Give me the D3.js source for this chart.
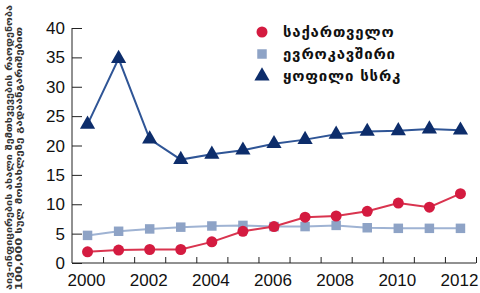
<!DOCTYPE html>
<html>
<head>
<meta charset="utf-8">
<script src="https://cdn.jsdelivr.net/npm/d3@7"></script>
<style>
  body { margin: 0; background: #fff; }
  svg { display: block; }
</style>
</head>
<body>
<div id="chart"></div>
<script>
// values
var years = [2000, 2001, 2002, 2003, 2004, 2005, 2006, 2007, 2008, 2009, 2010, 2011, 2012];
var georgia = [1.9, 2.2, 2.3, 2.3, 3.6, 5.4, 6.2, 7.8, 8.0, 8.8, 10.2, 9.5, 11.8];
var eu = [4.7, 5.4, 5.8, 6.1, 6.3, 6.4, 6.2, 6.2, 6.4, 6.0, 5.9, 5.9, 5.9];
var exUssr = [23.6, 34.8, 21.1, 17.6, 18.5, 19.2, 20.3, 21.0, 21.9, 22.4, 22.5, 22.8, 22.6];
var seriesNames = ['საქართველო', 'ევროკავშირი', 'ყოფილი სსრკ'];
var yTicks = [0, 5, 10, 15, 20, 25, 30, 35, 40];
var xTickLabels = [2000, 2002, 2004, 2006, 2008, 2010, 2012];
var yTitle = ['აივ-ინფიცირების ახალი შემთხვევების რაოდენობა', '100,000 სულ მოსახლეზე გადაანგარიშებით'];

var width = 480, height = 293;

var svg = d3.select('#chart')
  .append('svg')
  .attr('width', width)
  .attr('height', height);

var x = d3.scaleLinear().domain([1999.5, 2012.5]).range([72, 476]);
var y = d3.scaleLinear().domain([0, 40]).range([263, 28]);

var axisColor = '#222';

// y axis, ticks pointing inward
var yAxis = svg.append('g')
  .attr('transform', 'translate(72,0)')
  .call(d3.axisRight(y).tickValues(yTicks).tickSize(10).tickFormat(''));
yAxis.select('.domain').attr('d', 'M0,' + y(40) + 'V' + y(0)).attr('stroke', axisColor);
yAxis.selectAll('.tick line').attr('stroke', axisColor);

svg.append('g')
  .selectAll('text')
  .data(yTicks)
  .enter()
  .append('text')
  .attr('x', 65)
  .attr('y', d => y(d) + 6)
  .attr('text-anchor', 'end')
  .attr('font-family', 'Liberation Sans, Arial, sans-serif')
  .attr('font-size', 17)
  .attr('fill', '#111')
  .text(d => d);

// x axis, ticks between years pointing up
var xAxis = svg.append('g')
  .attr('transform', 'translate(0,263)')
  .call(d3.axisTop(x).tickValues(d3.range(2000.5, 2013, 1)).tickSize(6).tickFormat(''));
xAxis.select('.domain').attr('d', 'M72,0H476').attr('stroke', axisColor);
xAxis.selectAll('.tick line').attr('stroke', axisColor);

svg.append('g')
  .selectAll('text')
  .data(xTickLabels)
  .enter()
  .append('text')
  .attr('x', d => x(d) - 1)
  .attr('y', 286)
  .attr('text-anchor', 'middle')
  .attr('font-family', 'Liberation Sans, Arial, sans-serif')
  .attr('font-size', 17)
  .attr('fill', '#111')
  .text(d => d);

// y title, two rotated lines
svg.selectAll('.ytitle')
  .data(yTitle)
  .enter()
  .append('text')
  .attr('class', 'ytitle')
  .attr('transform', (d, i) => 'translate(' + (12 + i * 10) + ',290) rotate(-90)')
  .attr('text-anchor', 'start')
  .attr('font-family', 'DejaVu Sans, sans-serif')
  .attr('font-weight', 'bold')
  .attr('font-size', 9)
  .attr('textLength', (d, i) => i == 0 ? 285 : 263)
  .attr('lengthAdjust', 'spacingAndGlyphs')
  .attr('fill', '#333')
  .text(d => d);

var series = [
  {name: seriesNames[0], values: georgia, line: '#d9344f', fill: '#d41b40', shape: d3.symbolCircle, size: 95},
  {name: seriesNames[1], values: eu, line: '#9fb3d3', fill: '#8ea3c6', shape: d3.symbolSquare, size: 90},
  {name: seriesNames[2], values: exUssr, line: '#2f5596', fill: '#0d2d6b', shape: d3.symbolTriangle, size: 100}
];

var line = d3.line()
  .x((d, i) => x(years[i]))
  .y(d => y(d));

// draw in order: EU, ex-USSR, Georgia on top
[1, 2, 0].forEach(function(k) {
  var s = series[k];
  var g = svg.append('g');
  g.append('path')
    .attr('d', line(s.values))
    .attr('fill', 'none')
    .attr('stroke', s.line)
    .attr('stroke-width', 2);
  g.selectAll('path.pt')
    .data(s.values)
    .enter()
    .append('path')
    .attr('class', 'pt')
    .attr('transform', (d, i) => 'translate(' + x(years[i]) + ',' + y(d) + ')')
    .attr('d', d3.symbol().type(s.shape).size(s.size))
    .attr('fill', s.fill);
});

// legend
var legend = svg.append('g');
series.forEach(function(s, i) {
  var ly = 32 + i * 22;
  legend.append('path')
    .attr('transform', 'translate(262,' + ly + ')')
    .attr('d', d3.symbol().type(s.shape).size(s.size))
    .attr('fill', s.fill);
  legend.append('text')
    .attr('x', 283)
    .attr('y', ly + 5)
    .attr('font-family', 'DejaVu Sans, sans-serif')
    .attr('font-weight', 'bold')
    .attr('font-size', 15)
    .attr('letter-spacing', 0.8)
    .attr('fill', '#111')
    .text(s.name);
});
</script>
</body>
</html>
